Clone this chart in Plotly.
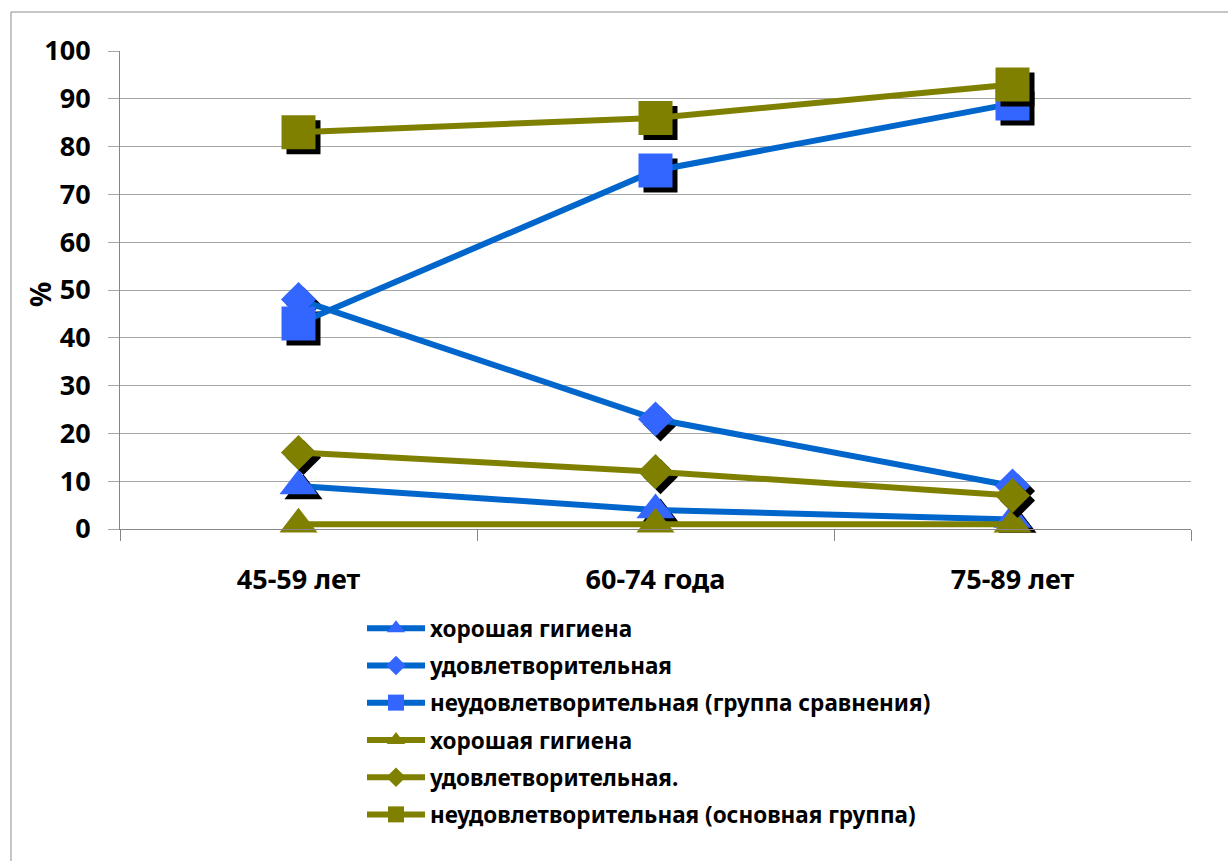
import plotly.graph_objects as go

# Age groups (x categories)
age_groups = ["45-59 лет", "60-74 года", "75-89 лет"]

# Comparison group (blue)
cmp_good = [9, 4, 2]
cmp_satisfactory = [48, 23, 9]
cmp_poor = [43, 75, 89]

# Main group (olive)
main_good = [1, 1, 1]
main_satisfactory = [16, 12, 7]
main_poor = [83, 86, 93]

series = [
    ("хорошая гигиена", cmp_good, "triangle-up", "blue"),
    ("удовлетворительная", cmp_satisfactory, "diamond", "blue"),
    ("неудовлетворительная (группа сравнения)", cmp_poor, "square", "blue"),
    ("хорошая гигиена", main_good, "triangle-up", "olive"),
    ("удовлетворительная.", main_satisfactory, "diamond", "olive"),
    ("неудовлетворительная (основная группа)", main_poor, "square", "olive"),
]

LINE = {"blue": "#0066CC", "olive": "#808000"}
MARK = {"blue": "#3366FF", "olive": "#808000"}
SIZE = {"triangle-up": 33, "diamond": 27, "square": 34}
LEGEND_SIZE = {"triangle-up": 19, "diamond": 15, "square": 17}

FONT = "Noto Sans"
W, H = 1228, 861
ML, MR, MT, MB = 120, 37, 51, 332
plot_w = W - ML - MR
plot_h = H - MT - MB
X_RANGE = [-0.5, 2.5]
Y_RANGE = [0, 100]

# drop-shadow offset (pixels) converted to axis units
SHADOW_PX = 5
dx = SHADOW_PX * (X_RANGE[1] - X_RANGE[0]) / plot_w
dy = SHADOW_PX * (Y_RANGE[1] - Y_RANGE[0]) / plot_h

xs = list(range(len(age_groups)))

fig = go.Figure()
for i, (name, vals, sym, grp) in enumerate(series):
    # black marker shadow
    fig.add_trace(go.Scatter(
        x=[x + dx for x in xs], y=[v - dy for v in vals],
        mode="markers", showlegend=False, hoverinfo="skip",
        legendgroup=f"g{i}",
        marker=dict(symbol=sym, size=SIZE[sym], color="black"),
        cliponaxis=False,
    ))
    fig.add_trace(go.Scatter(
        x=xs, y=vals, name=name, mode="lines+markers",
        legendgroup=f"g{i}", showlegend=False,
        line=dict(color=LINE[grp], width=6),
        marker=dict(symbol=sym, size=SIZE[sym], color=MARK[grp]),
        cliponaxis=False,
    ))
    # legend entry with smaller key marker
    fig.add_trace(go.Scatter(
        x=[None], y=[None], name=name, mode="lines+markers",
        legendgroup=f"g{i}", showlegend=True,
        line=dict(color=LINE[grp], width=6),
        marker=dict(symbol=sym, size=LEGEND_SIZE[sym], color=MARK[grp]),
    ))

fig.update_layout(
    width=W, height=H,
    margin=dict(l=ML, r=MR, t=MT, b=MB, autoexpand=False),
    paper_bgcolor="white", plot_bgcolor="white",
    font=dict(family=FONT, size=22, color="black", weight="bold"),
    showlegend=True,
    legend=dict(
        x=(362 - ML) / plot_w, y=(MT + plot_h - 607) / plot_h,
        xanchor="left", yanchor="top",
        font=dict(family=FONT, size=22.5, color="black", weight="bold"),
        itemsizing="trace", itemwidth=58, tracegroupgap=5,
        bgcolor="rgba(0,0,0,0)",
    ),
    xaxis=dict(
        range=X_RANGE, tickvals=xs, ticktext=age_groups,
        showgrid=False, zeroline=False,
        showline=True, linecolor="#868686", linewidth=1,
        ticks="", ticklabelstandoff=27,
        tickfont=dict(family=FONT, size=27, color="black", weight="bold"),
        minor=dict(tick0=-0.5, dtick=1, ticks="outside", ticklen=11,
                   tickcolor="#868686", showgrid=False),
    ),
    yaxis=dict(
        range=Y_RANGE, tick0=0, dtick=10,
        showgrid=True, gridcolor="#A6A6A6", gridwidth=1, zeroline=False,
        showline=True, linecolor="#868686", linewidth=1,
        ticks="outside", ticklen=11, tickcolor="#A6A6A6",
        ticklabelstandoff=12,
        tickfont=dict(family=FONT, size=27, color="black", weight="bold"),
    ),
    annotations=[dict(
        text="%", xref="paper", yref="paper",
        x=(40 - ML) / plot_w, y=(MT + plot_h - 295) / plot_h,
        xanchor="center", yanchor="middle", textangle=-90, showarrow=False,
        font=dict(family=FONT, size=28, color="black", weight="bold"),
    )],
    shapes=[dict(
        type="rect", xref="paper", yref="paper",
        x0=(11 - ML) / plot_w, x1=1.2,
        y0=-1.0, y1=(MT + plot_h - 12) / plot_h,
        line=dict(color="#8C8C8C", width=1), fillcolor="rgba(0,0,0,0)",
        layer="below",
    )],
)

fig.write_html("out.html")
